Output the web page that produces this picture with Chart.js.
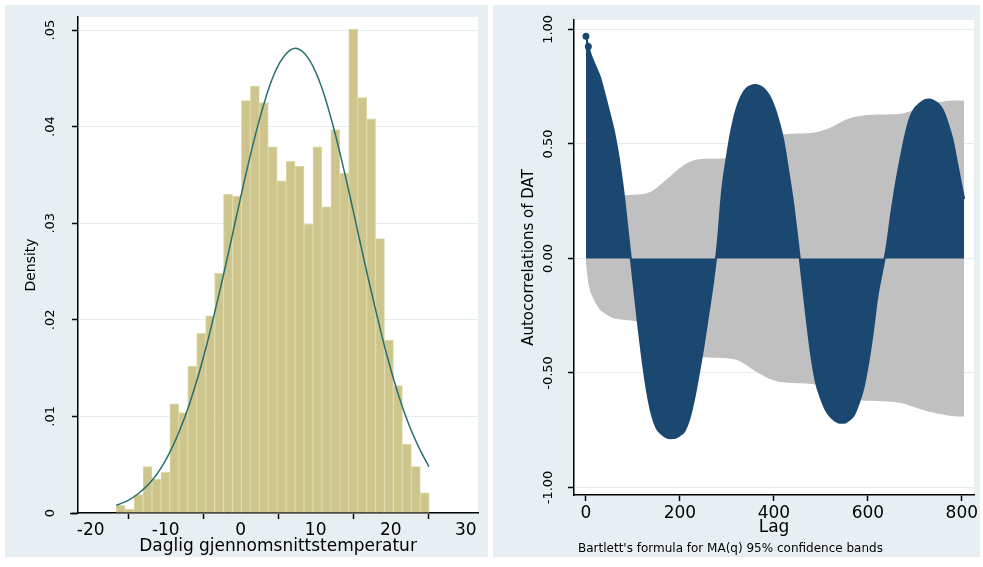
<!DOCTYPE html>
<html>
<head>
<meta charset="utf-8">
<script src="https://cdn.jsdelivr.net/npm/chart.js@4.4.1/dist/chart.umd.min.js"></script>
<style>
  body { margin: 0; background: #fff; width: 983px; height: 567px; overflow: hidden; }
  .panel { position: absolute; top: 5px; height: 552px; background: #e8eff2; }
  #left { left: 5px; width: 483px; }
  #right { left: 493px; width: 487px; }
  canvas { display: block; }
</style>
</head>
<body>
<div class="panel" id="left"><canvas id="histChart" width="483" height="552"></canvas></div>
<div class="panel" id="right"><canvas id="acChart" width="487" height="552"></canvas></div>
<script>
// --- histogram of daily mean temperature ---
const binCenters = [-16.00, -14.81, -13.62, -12.42, -11.23, -10.04, -8.85, -7.65, -6.46, -5.27,
  -4.08, -2.88, -1.69, -0.50, 0.69, 1.89, 3.08, 4.27, 5.46, 6.66,
  7.85, 9.04, 10.23, 11.43, 12.62, 13.81, 15.00, 16.20, 17.39, 18.58,
  19.77, 20.97, 22.16, 23.35, 24.54];
const densities = [0.0008, 0.0004, 0.0019, 0.0048, 0.0035, 0.0042, 0.0113, 0.0104, 0.0152, 0.0186,
  0.0204, 0.0248, 0.0330, 0.0328, 0.0427, 0.0442, 0.0425, 0.0379, 0.0344, 0.0364,
  0.0359, 0.0299, 0.0379, 0.0317, 0.0397, 0.0352, 0.0501, 0.0430, 0.0408, 0.0284,
  0.0179, 0.0132, 0.0071, 0.0048, 0.0021];
// normal density overlay
const normX = [-16.6, -15, -13.5, -12, -10.5, -9, -7.5, -6, -4.5, -3, -1.5, 0, 1.5, 3, 4.5, 6, 7.5,
  9, 10.5, 12, 13.5, 15, 16.5, 18, 19.5, 21, 22.5, 24, 25.1];
const normY = [0.0008, 0.0013, 0.0021, 0.0032, 0.0048, 0.0070, 0.0098, 0.0133, 0.0175, 0.0223, 0.0274,
  0.0327, 0.0377, 0.0421, 0.0455, 0.0475, 0.0481, 0.0471, 0.0447, 0.0410, 0.0364, 0.0313, 0.0260,
  0.0210, 0.0163, 0.0123, 0.0090, 0.0064, 0.0048];
const histXTicks = [-20, -10, 0, 10, 20, 30];
const histXLabels = ["-20", "-10", "0", "10", "20", "30"];
const histYTicks = [0, 0.01, 0.02, 0.03, 0.04, 0.05];
const histYLabels = ["0", ".01", ".02", ".03", ".04", ".05"];

// --- autocorrelations of DAT ---
const lags = [0, 5, 10, 20, 30, 40, 50, 60, 70, 80, 90, 100, 110, 120, 130, 140, 150, 160, 170, 180,
  190, 200, 210, 220, 230, 240, 250, 260, 270, 280, 290, 300, 310, 320, 330, 340, 350, 360, 370, 380,
  390, 400, 410, 420, 430, 440, 450, 460, 470, 480, 490, 500, 510, 520, 530, 540, 550, 560, 570, 580,
  590, 600, 610, 620, 630, 640, 650, 660, 670, 680, 690, 700, 710, 720, 730, 740, 750, 760, 770, 780,
  790, 800, 805];
const acf = [0.97, 0.925, 0.89, 0.84, 0.79, 0.715, 0.635, 0.55, 0.435, 0.285, 0.10, -0.085, -0.27, -0.44, -0.58, -0.68, -0.74, -0.765, -0.78, -0.785,
  -0.783, -0.772, -0.752, -0.70, -0.615, -0.505, -0.385, -0.25, -0.11, 0.06, 0.30, 0.445, 0.565, 0.65, 0.705, 0.738, 0.752, 0.757, 0.752, 0.738,
  0.71, 0.665, 0.60, 0.515, 0.39, 0.255, 0.09, -0.09, -0.27, -0.43, -0.545, -0.61, -0.66, -0.69, -0.708, -0.718, -0.718, -0.705, -0.685, -0.635,
  -0.57, -0.465, -0.33, -0.17, -0.06, 0.05, 0.20, 0.33, 0.44, 0.54, 0.615, 0.655, 0.675, 0.69, 0.694, 0.688, 0.675, 0.645, 0.59, 0.52,
  0.415, 0.31, 0.26];
const bandUpper = [0.05, 0.12, 0.155, 0.20, 0.226, 0.242, 0.255, 0.264, 0.27, 0.275, 0.277, 0.278, 0.279, 0.28, 0.284, 0.293, 0.307, 0.325, 0.342, 0.36,
  0.378, 0.395, 0.41, 0.421, 0.429, 0.433, 0.435, 0.435, 0.435, 0.435, 0.436, 0.437, 0.439, 0.443, 0.452, 0.465, 0.479, 0.493, 0.505, 0.516,
  0.526, 0.533, 0.538, 0.541, 0.543, 0.544, 0.545, 0.545, 0.546, 0.548, 0.551, 0.556, 0.563, 0.571, 0.581, 0.592, 0.603, 0.611, 0.617, 0.621,
  0.624, 0.626, 0.627, 0.628, 0.628, 0.628, 0.629, 0.63, 0.632, 0.636, 0.643, 0.651, 0.659, 0.666, 0.672, 0.677, 0.681, 0.685, 0.688, 0.69,
  0.69, 0.69, 0.69];
const bandLower = [-0.02, -0.11, -0.15, -0.195, -0.226, -0.24, -0.254, -0.262, -0.266, -0.268, -0.27, -0.272, -0.275, -0.278, -0.283, -0.292, -0.306, -0.324, -0.341, -0.358,
  -0.376, -0.393, -0.408, -0.419, -0.426, -0.43, -0.432, -0.433, -0.434, -0.434, -0.435, -0.436, -0.438, -0.442, -0.451, -0.464, -0.478, -0.492, -0.504, -0.515,
  -0.525, -0.532, -0.538, -0.541, -0.543, -0.544, -0.545, -0.545, -0.546, -0.548, -0.551, -0.556, -0.563, -0.571, -0.58, -0.591, -0.601, -0.609, -0.614, -0.618,
  -0.62, -0.621, -0.622, -0.623, -0.624, -0.625, -0.626, -0.628, -0.631, -0.636, -0.643, -0.65, -0.657, -0.663, -0.669, -0.674, -0.678, -0.682, -0.686, -0.688,
  -0.69, -0.69, -0.69];
const acXTicks = [0, 200, 400, 600, 800];
const acXLabels = ["0", "200", "400", "600", "800"];
const acYTicks = [-1, -0.5, 0, 0.5, 1];
const acYLabels = ["-1.00", "-0.50", "0.00", "0.50", "1.00"];

Chart.defaults.font.family = "'DejaVu Sans', sans-serif";
Chart.defaults.color = '#000';
Chart.defaults.animation = false;

const GRID = '#e3ecef';

// white plot region
const plotBg = {
  id: 'plotBg',
  beforeDraw(chart) {
    const { ctx, chartArea: a } = chart;
    ctx.save();
    ctx.fillStyle = '#fff';
    ctx.fillRect(a.left, a.top, a.right - a.left, a.bottom - a.top);
    ctx.restore();
  }
};

// Stata style vertical y tick labels
function yLabelPlugin(labels, gap) {
  return {
    id: 'yLabels',
    afterDraw(chart) {
      const s = chart.scales.y, ctx = chart.ctx;
      ctx.save();
      ctx.font = "13px 'DejaVu Sans'";
      ctx.fillStyle = '#000';
      ctx.textAlign = 'center';
      ctx.textBaseline = 'middle';
      s.ticks.forEach((t, i) => {
        ctx.save();
        ctx.translate(s.right - gap, s.getPixelForValue(t.value));
        ctx.rotate(-Math.PI / 2);
        ctx.fillText(labels[i], 0, 0);
        ctx.restore();
      });
      ctx.restore();
    }
  };
}

// x axis line runs a little past the y axis in the histogram
const axisStub = {
  id: 'axisStub',
  afterDraw(chart) {
    const { ctx, chartArea: a } = chart;
    ctx.save();
    ctx.strokeStyle = '#000';
    ctx.lineWidth = 1.5;
    ctx.beginPath();
    ctx.moveTo(a.left - 8, a.bottom + 0.5);
    ctx.lineTo(a.left, a.bottom + 0.5);
    ctx.stroke();
    ctx.restore();
  }
};

function xAxis(min, max, ticks, labels, title, height, pad) {
  return {
    type: 'linear', min, max, offset: false,
    afterBuildTicks: s => { s.ticks = ticks.map(v => ({ value: v })); },
    afterFit: s => { s.height = height; s.paddingLeft = 0; s.paddingRight = 0; },
    ticks: { autoSkip: false, maxRotation: 0, padding: pad, font: { size: 17 }, callback: (v, i) => labels[i] },
    grid: { drawOnChartArea: false, tickLength: 6, tickColor: '#000', tickWidth: 1.5 },
    border: { color: '#000', width: 1.5 },
    title: { display: true, text: title, font: { size: 17 }, padding: { top: 0, bottom: 0 } }
  };
}

function yAxis(min, max, ticks, title, width, size) {
  return {
    min, max,
    afterBuildTicks: s => { s.ticks = ticks.map(v => ({ value: v })); },
    afterFit: s => { s.width = width; s.paddingTop = 0; s.paddingBottom = 0; },
    ticks: { display: false },
    grid: { color: GRID, lineWidth: 1, tickLength: 6, tickColor: '#000', tickWidth: 1.5 },
    border: { color: '#000', width: 1.5 },
    title: { display: true, text: title, font: { size: size }, padding: { top: 0, bottom: 0 } }
  };
}

new Chart(document.getElementById('histChart'), {
  type: 'bar',
  data: {
    datasets: [
      {
        type: 'line',
        data: normX.map((x, i) => ({ x, y: normY[i] })),
        borderColor: '#26706f',
        borderWidth: 1.5,
        pointRadius: 0,
        tension: 0.4,
        fill: false
      },
      {
        type: 'bar',
        data: binCenters.map((x, i) => ({ x, y: densities[i] })),
        backgroundColor: '#cdc58b',
        borderColor: '#dcd8a8',
        borderWidth: 1,
        barPercentage: 1,
        categoryPercentage: 1
      }
    ]
  },
  options: {
    responsive: false,
    layout: { padding: { left: 18, top: 12, right: 10, bottom: 0 } },
    plugins: { legend: { display: false }, tooltip: { enabled: false } },
    scales: {
      x: xAxis(-21.69, 31.64, histXTicks, histXLabels, 'Daglig gjennomsnittstemperatur', 44, 1),
      y: yAxis(0, 0.05135, histYTicks, 'Density', 55, 14)
    }
  },
  plugins: [plotBg, yLabelPlugin(histYLabels, 27), axisStub]
});

const noteText = "Bartlett's formula for MA(q) 95% confidence bands";
const notePlugin = {
  id: 'note',
  afterDraw(chart) {
    const ctx = chart.ctx;
    ctx.save();
    ctx.font = "12px 'DejaVu Sans'";
    ctx.fillStyle = '#000';
    ctx.textAlign = 'left';
    ctx.textBaseline = 'middle';
    ctx.fillText(noteText, 85, 544);
    ctx.restore();
  }
};

new Chart(document.getElementById('acChart'), {
  type: 'line',
  data: {
    datasets: [
      {
        data: lags.map((x, i) => ({ x, y: acf[i] })),
        borderColor: '#1b4870',
        backgroundColor: '#1b4870',
        borderWidth: 2,
        pointRadius: ctx => (ctx.dataIndex < 2 ? 2.5 : 0),
        pointBackgroundColor: '#1b4870',
        cubicInterpolationMode: 'monotone',
        fill: 'origin'
      },
      {
        data: lags.map((x, i) => ({ x, y: bandUpper[i] })),
        borderWidth: 0,
        borderColor: '#c0c0c0',
        backgroundColor: '#c0c0c0',
        pointRadius: 0,
        fill: '+1'
      },
      {
        data: lags.map((x, i) => ({ x, y: bandLower[i] })),
        borderWidth: 0,
        borderColor: '#c0c0c0',
        pointRadius: 0,
        fill: false
      }
    ]
  },
  options: {
    responsive: false,
    layout: { padding: { left: 27, top: 15, right: 5, bottom: 19 } },
    plugins: { legend: { display: false }, tooltip: { enabled: false } },
    scales: {
      x: xAxis(-25.5, 825.9, acXTicks, acXLabels, 'Lag', 43, 2),
      y: yAxis(-1.033, 1.041, acYTicks, 'Autocorrelations of DAT', 54, 15)
    }
  },
  plugins: [plotBg, yLabelPlugin(acYLabels, 25), notePlugin]
});
</script>
</body>
</html>
